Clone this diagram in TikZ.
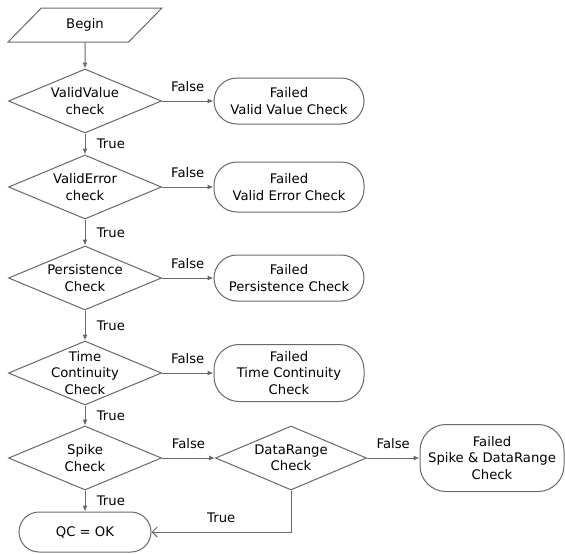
\documentclass[tikz,border=0pt]{standalone}
\usepackage{fontspec}
\setmainfont{DejaVu Sans}
\usepackage{tikz}
\usetikzlibrary{arrows.meta,shapes.geometric}
\definecolor{linegray}{HTML}{686868}

\begin{document}
\begin{tikzpicture}[->,>={Latex[length=6pt,width=5pt]},node distance=86pt,color=linegray,line width=1pt,
		every node/.style={text=black,font=\fontsize{13.2}{16.5}\selectfont}]
		\tikzstyle{io}=[trapezium,draw,trapezium left angle=49,trapezium right angle=131,
		trapezium stretches=true,minimum width=154pt,minimum height=34pt]
		\tikzstyle{decision}=[diamond,draw,align=center,minimum width=153pt,minimum height=64pt,
		inner xsep=-30pt,inner ysep=-14pt]
		\tikzstyle{fail}=[rectangle,draw,rounded corners=23pt,align=center,minimum width=150pt,
		minimum height=46pt]
		
		\useasboundingbox (0,0) rectangle (565pt,-554pt);
		
		\node[io]       (begin) at (85pt,-25pt) {Begin};
		\node[decision] (vv)  [node distance=76pt,below of=begin] {ValidValue\\check};
		\node[fail]     (fvv) [node distance=204pt,right of=vv] {Failed\\Valid Value Check};
		\node[decision] (ve)  [below of=vv] {ValidError\\check};
		\node[fail,minimum height=50pt] (fve) [node distance=204pt,right of=ve] {Failed\\Valid Error Check};
		\node[decision] (pc)  [node distance=91pt,below of=ve] {Persistence\\Check};
		\node[fail]     (fpc) [node distance=204pt,right of=pc] {Failed\\Persistence Check};
		\node[decision] (tc)  [node distance=95pt,below of=pc] {Time\\Continuity\\Check};
		\node[fail,minimum height=57pt,rounded corners=25pt] (ftc) [node distance=204pt,right of=tc] {Failed\\Time Continuity\\Check};
		\node[decision] (sc)  [node distance=85pt,below of=tc] {Spike\\Check};
		\node[decision,minimum width=151pt] (dr) [node distance=206pt,right of=sc] {DataRange\\Check};
		\node[fail,minimum width=144pt,minimum height=67pt,rounded corners=26pt] (fsd) [node distance=201pt,right of=dr] {Failed\\Spike \& DataRange\\Check};
		\node[fail,minimum width=132pt,minimum height=40pt,rounded corners=20pt] (ok) [node distance=74pt,below of=sc] {QC = OK};
		
		\path (begin) edge (vv)
		(vv) edge node[above=5pt] {False} (fvv)
		edge node[right=8pt] {True} (ve)
		(ve) edge node[above=5pt] {False} (fve)
		edge node[right=8pt] {True} (pc)
		(pc) edge node[above=5pt] {False} (fpc)
		edge node[right=8pt] {True} (tc)
		(tc) edge node[above=5pt] {False} (ftc)
		edge node[right=8pt] {True} (sc)
		(sc) edge node[above=5pt] {False} (dr)
		edge node[right=8pt] {True} (ok)
		(dr) edge node[above=5pt] {False} (fsd);
		\draw[-{Straight Barb[length=5pt,width=10pt]}] (dr) |- node[pos=0.75,above=5pt] {True} (ok);
		\end{tikzpicture}
\end{document}
